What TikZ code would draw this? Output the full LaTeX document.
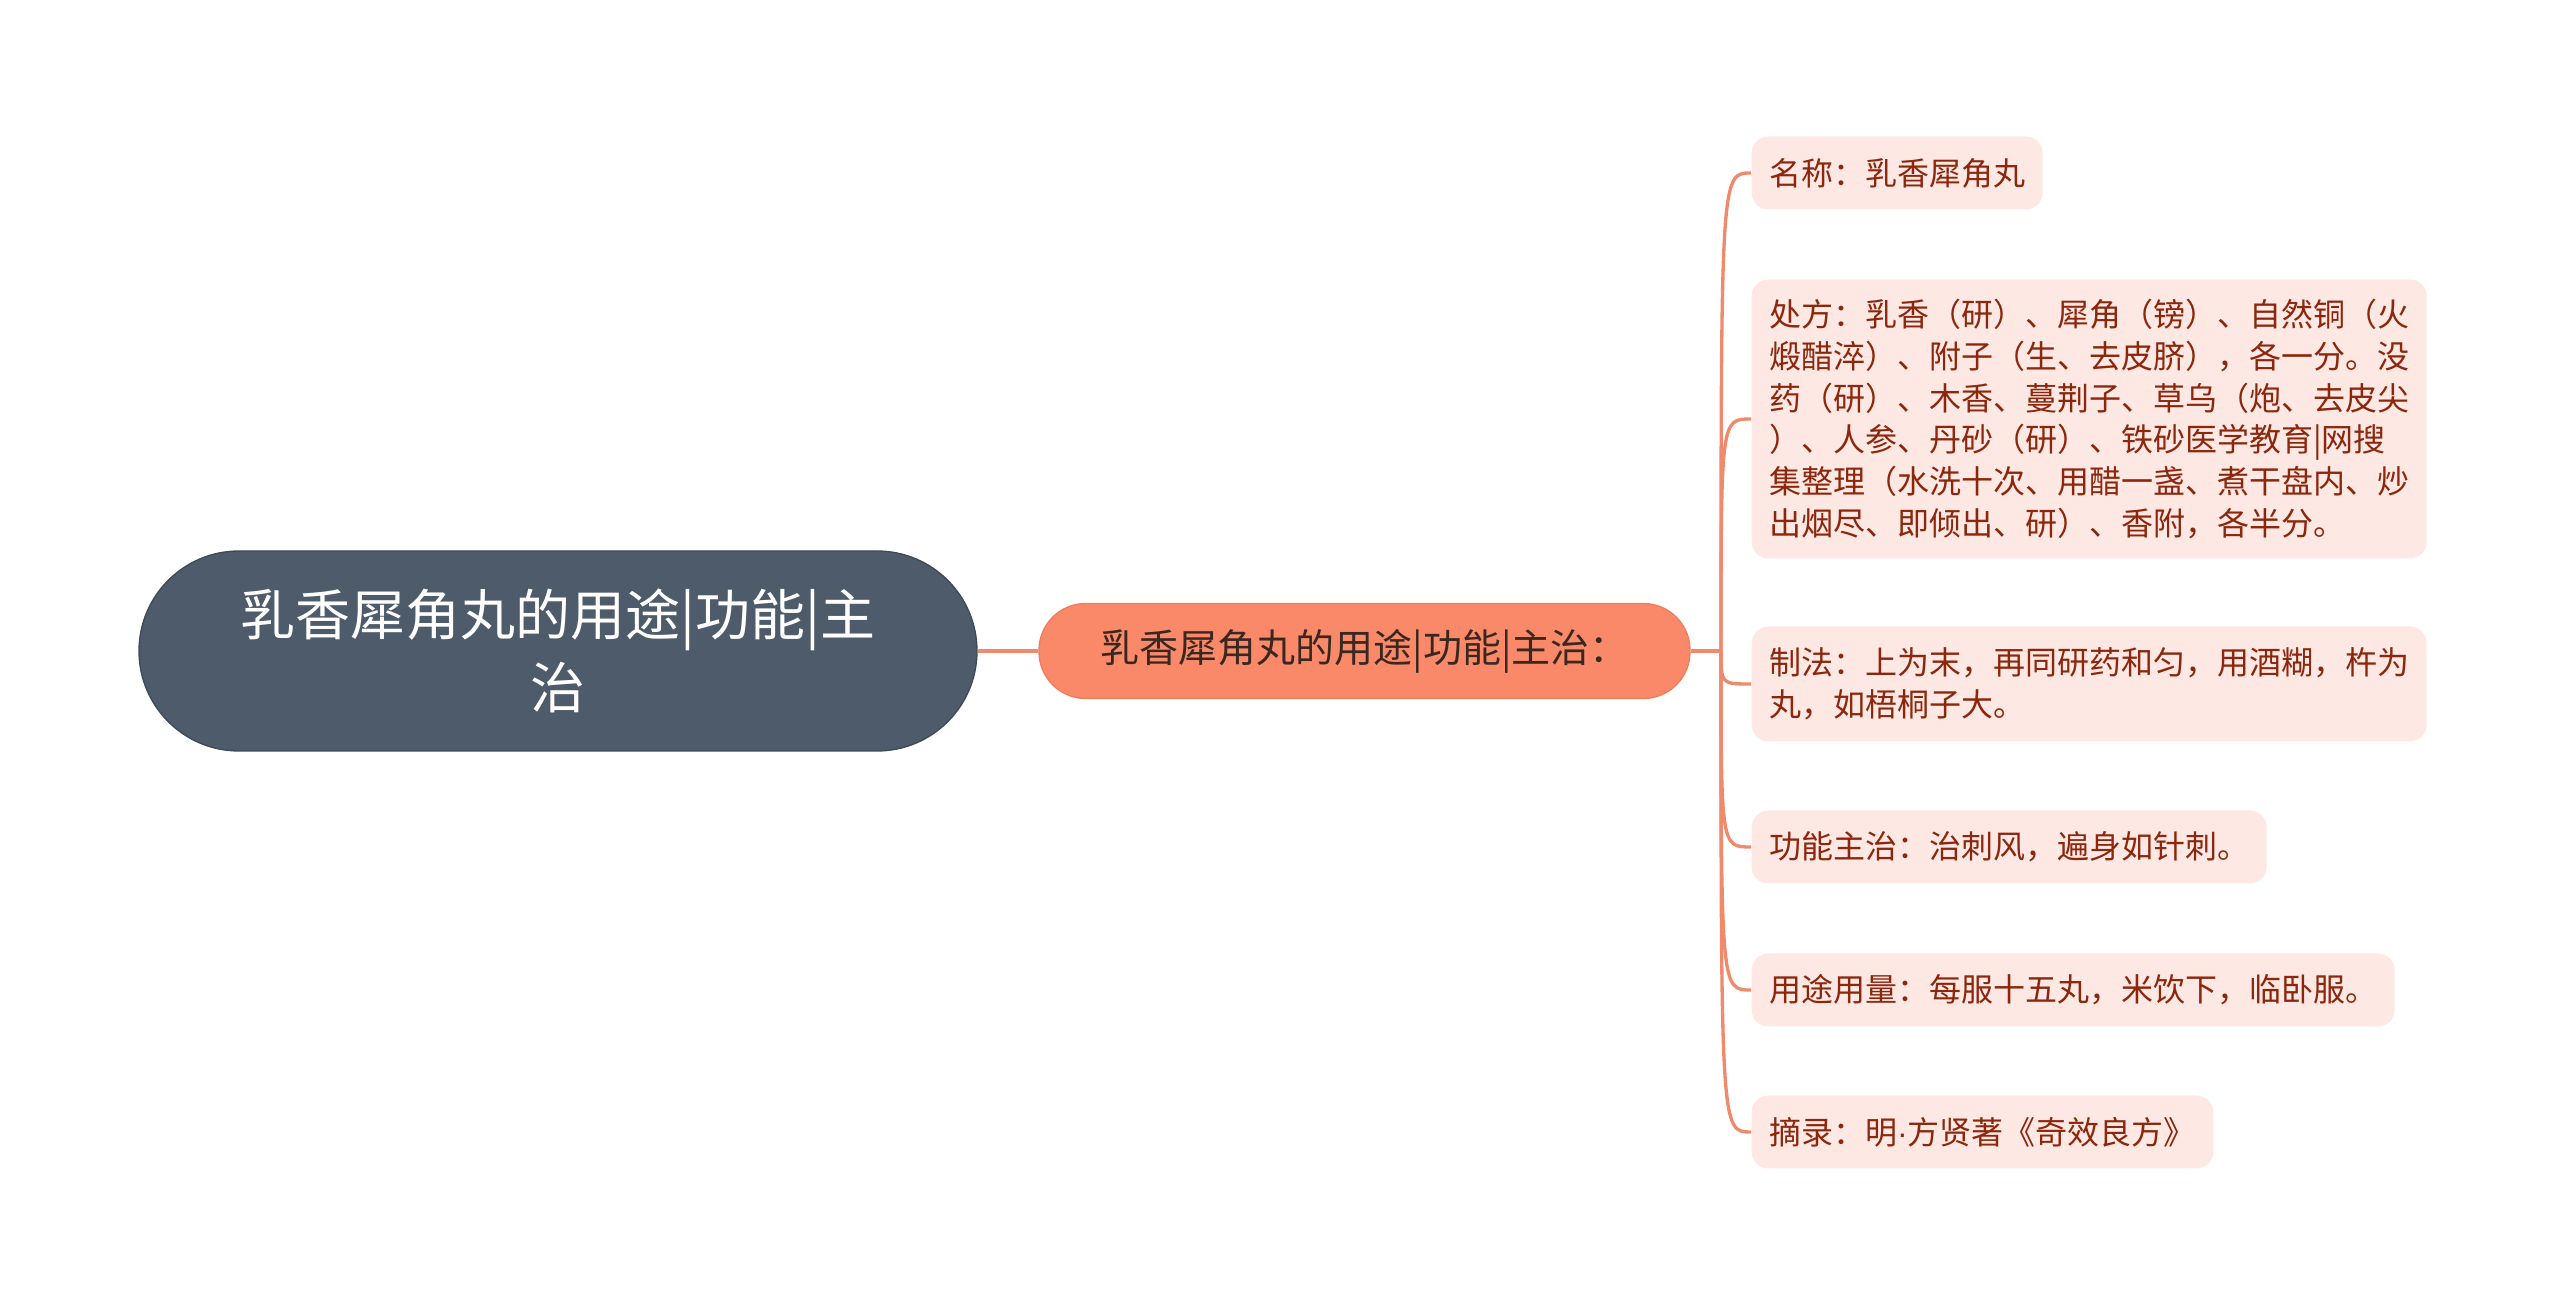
\documentclass[tikz,border=0pt]{standalone}
\usepackage{fontspec}
\newfontfamily\cjk{Noto Sans CJK SC}
\newfontfamily\latinsans{Liberation Sans}
\usepackage{tikz}
\usetikzlibrary{positioning, calc}
\definecolor{rootslate}{RGB}{77, 91, 106}
\definecolor{rootedge}{RGB}{62, 74, 87}
\definecolor{mainsalmon}{RGB}{250, 137, 106}
\definecolor{mainedge}{RGB}{240, 124, 94}
\definecolor{maintext}{RGB}{58, 40, 32}
\definecolor{leafpink}{RGB}{253, 232, 227}
\definecolor{leaftext}{RGB}{140, 38, 12}
\definecolor{linkorange}{RGB}{240, 138, 108}

\begin{document}
\begin{tikzpicture}[x=0.3pt, y=-0.3pt,
  leafbox/.style={fill=leafpink, rounded corners=5pt, anchor=west, align=left,
    inner xsep=5.25pt, inner ysep=0pt, minimum height=21.9pt, text=leaftext,
    font=\cjk\fontsize{9.6pt}{12.5pt}\selectfont},
  link/.style={draw=linkorange, line width=1pt}]
  \useasboundingbox (0,0) rectangle (2560,1303);

  % Root
  \node[draw=rootedge, fill=rootslate, rounded corners=30pt, minimum width=251.4pt,
    minimum height=60pt, align=center, text=white,
    font=\cjk\fontsize{16.5pt}{21.7pt}\selectfont] (root) at (558, 651)
    {乳香犀角丸的用途|功能|主\\治};

  % Main topic
  \node[draw=mainedge, fill=mainsalmon, rounded corners=14pt, minimum width=195.3pt,
    minimum height=28.5pt, text=maintext,
    font=\cjk\fontsize{11.7pt}{14pt}\selectfont] (main) at (1364.5, 651)
    {乳香犀角丸的用途|功能|主治：};
  \coordinate (fork) at (1721, 651);

  % Leaves
  \node[leafbox] (name) at (1751, 173) {名称：乳香犀角丸};
  \node[leafbox, text width=192pt, minimum height=83.7pt] (recipe) at (1751, 419) {
    处方：乳香（研）、犀角（镑）、自然铜（火\\
    煅醋淬）、附子（生、去皮脐），各一分。没\\
    药（研）、木香、蔓荆子、草乌（炮、去皮尖\\
    ）、人参、丹砂（研）、铁砂医学教育|网搜\\
    集整理（水洗十次、用醋一盏、煮干盘内、炒\\
    出烟尽、即倾出、研）、香附，各半分。};
  \node[leafbox, text width=192pt, minimum height=34.5pt] (method) at (1751, 684) {
    制法：上为末，再同研药和匀，用酒糊，杵为\\
    丸，如梧桐子大。};
  \node[leafbox] (effect) at (1751, 847) {功能主治：治刺风，遍身如针刺。};
  \node[leafbox] (dosage) at (1751, 990) {用途用量：每服十五丸，米饮下，临卧服。};
  \node[leafbox] (source) at (1751, 1132) {摘录：明{\latinsans ·}方贤著《奇效良方》};

  % Links
  \draw[link] (root.east) -- (main.west);
  \draw[link] (main.east) -- (fork);
  \foreach \leaf in {name, recipe, method, effect, dosage, source}
    \draw[link] (fork) .. controls (fork |- \leaf.west) and (fork |- \leaf.west) .. (\leaf.west);
\end{tikzpicture}
\end{document}
